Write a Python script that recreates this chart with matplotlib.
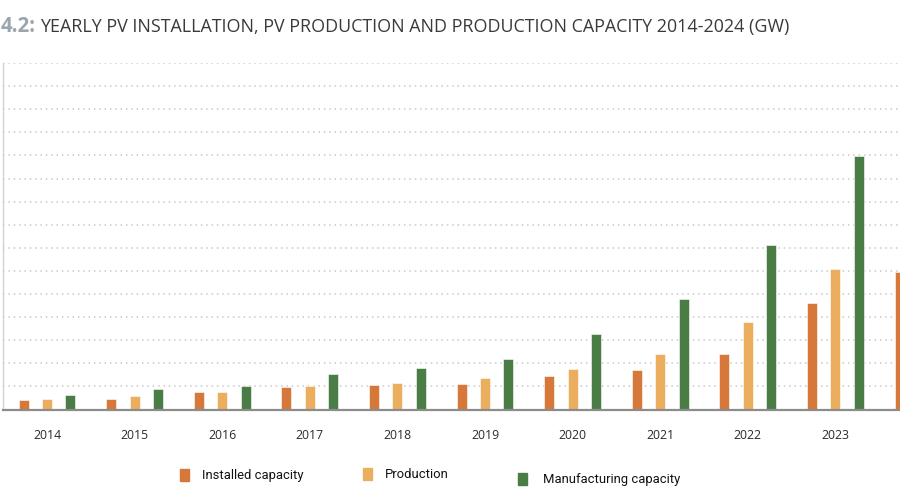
import numpy as np
import matplotlib
matplotlib.use("Agg")
import matplotlib.pyplot as plt
from matplotlib.patches import Rectangle

plt.rcParams['font.family'] = ['Open Sans', 'DejaVu Sans']

# values in GW (2024 only partly visible)
years = ['2014', '2015', '2016', '2017', '2018', '2019', '2020', '2021', '2022', '2023', '2024']
installed = [39, 47, 75, 99, 106, 110, 144, 172, 241, 461, 596]
production = [44, 60, 75, 102, 113, 136, 175, 241, 378, 609, np.nan]
manufacturing = [63, 90, 102, 152, 181, 218, 326, 478, 714, 1096, np.nan]

series_names = ['Installed capacity', 'Production', 'Manufacturing capacity']
colors = ['#D6783A', '#EBAE5F', '#4A7D45']

fig = plt.figure(figsize=(9, 5), dpi=100)
ax = fig.add_axes([3 / 900, 1 - 409.5 / 500, 1 - 3 / 900, (409.5 - 63) / 500])

x = np.arange(len(years))
offset = 0.267
width = 0.115
for k, vals in enumerate([installed, production, manufacturing]):
    ax.bar(x + (k - 1) * offset, vals, width=width, color=colors[k],
           edgecolor='white', linewidth=0.4, zorder=3)

ax.set_ylim(0, 1500)
ax.set_yticks(np.arange(0, 1501, 100))
ax.set_yticklabels([])
ax.tick_params(axis='y', length=0)
ax.yaxis.grid(True, linestyle=(0, (1, 2.5)), color='#c9c9c9', linewidth=1.1, zorder=0)

# only the visible years get a label, the 2024 group runs off the right edge
ax.set_xticks(x[:-1])
ax.set_xticklabels(years[:-1], fontsize=8.8, color='#2a2a2a')
ax.tick_params(axis='x', length=0, pad=14)
ax.set_xlim(-0.502, 9.737)

for side in ['top', 'right']:
    ax.spines[side].set_visible(False)
ax.spines['left'].set_color('#d2d2d2')
ax.spines['left'].set_linewidth(1.0)
ax.spines['bottom'].set_color('#8c8c8c')
ax.spines['bottom'].set_linewidth(1.6)
ax.spines['bottom'].set_zorder(4)

# title in two parts: grey bold number + dark text
fig.text(0.5 / 900, 1 - 32 / 500, '4.2:', fontsize=14.8, fontweight='bold',
         color='#9ba5ae', va='baseline', ha='left')
fig.text(40 / 900, 1 - 32 / 500,
         'YEARLY PV INSTALLATION, PV PRODUCTION AND PRODUCTION CAPACITY 2014-2024 (GW)',
         fontsize=12.9, color='#3a3a3a', va='baseline', ha='left')

# hand placed legend, as in the original
legend_pos = [(180, 475, 202), (363, 474, 385), (518, 479, 543)]
for (mx, my, tx), name, c in zip(legend_pos, series_names, colors):
    fig.patches.append(Rectangle((mx / 900, 1 - (my + 6) / 500), 9 / 900, 12 / 500,
                                 transform=fig.transFigure, color=c))
    fig.text(tx / 900, 1 - my / 500, name, fontsize=9.4, color='#111111',
             va='center', ha='left', family=['Roboto', 'Open Sans'])

fig.savefig('out.png', dpi=100)
